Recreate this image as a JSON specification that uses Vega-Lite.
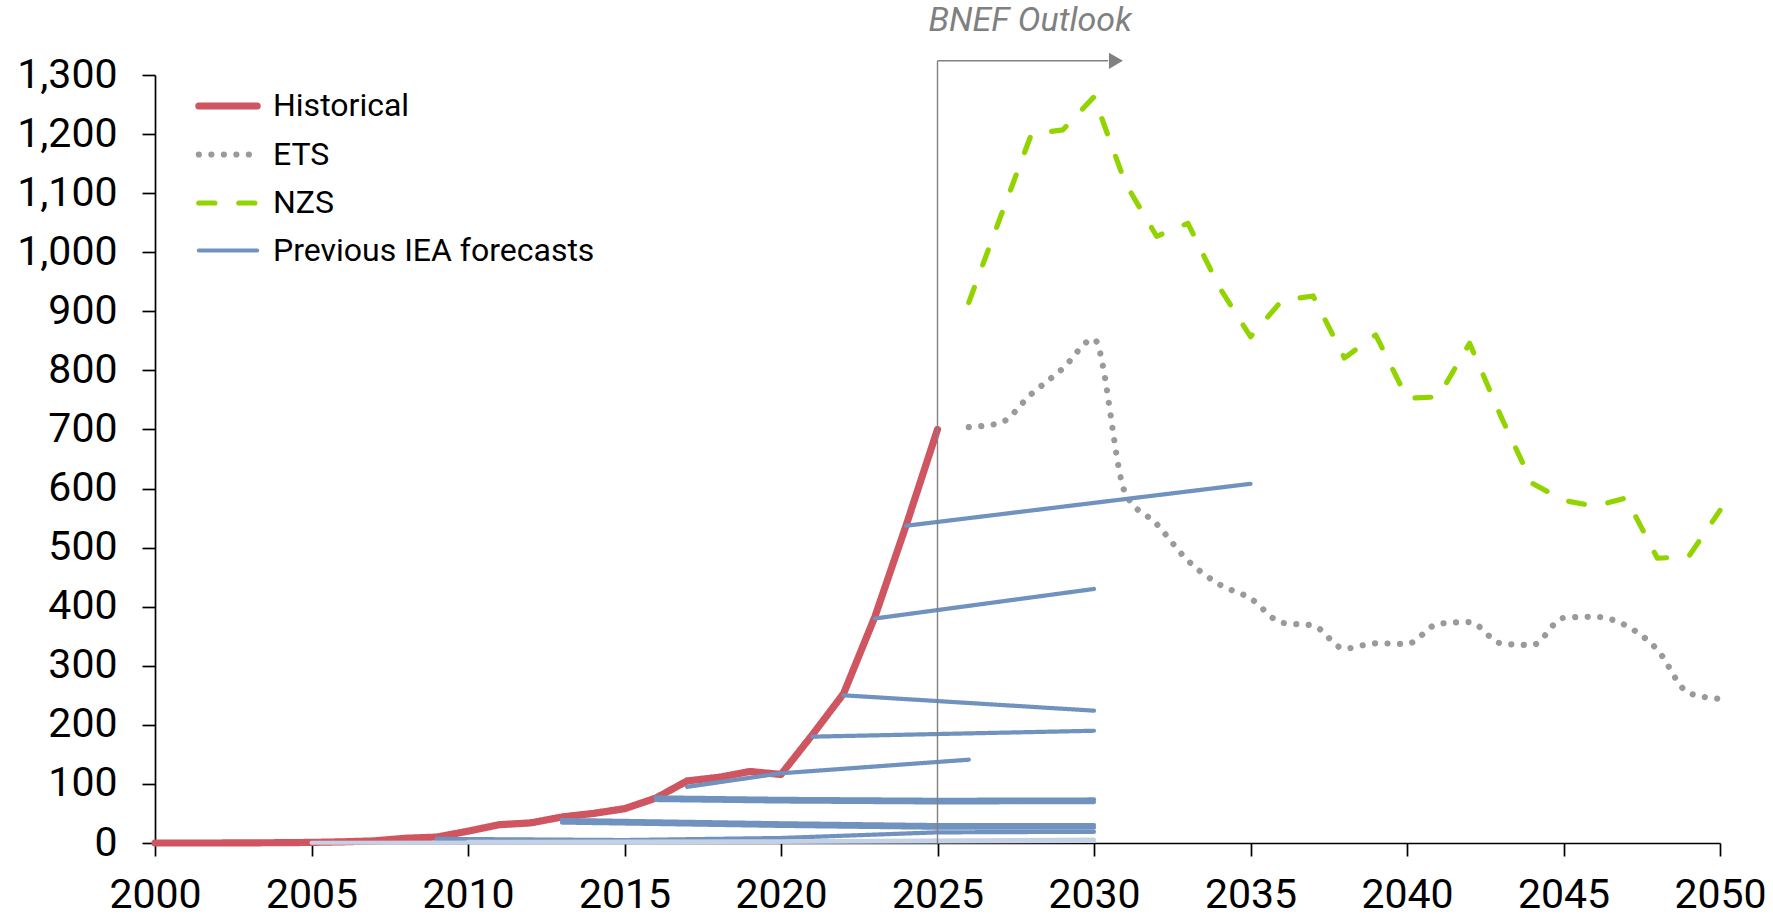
{
  "$schema": "https://vega.github.io/schema/vega-lite/v6.json",
  "width": 1565,
  "height": 768,
  "autosize": {"type": "none"},
  "padding": {"left": 155, "top": 75, "right": 53, "bottom": 75},
  "background": "#ffffff",
  "config": {
    "view": {"stroke": null},
    "font": "Roboto",
    "axis": {
      "grid": false,
      "domainColor": "#000000",
      "domainWidth": 1.7,
      "tickColor": "#000000",
      "tickWidth": 1.7,
      "tickSize": 13,
      "labelFont": "Roboto",
      "labelFontSize": 41,
      "labelColor": "#000000",
      "labelOverlap": false,
      "labelFlush": false
    },
    "legend": {
      "orient": "none",
      "legendX": 40,
      "legendY": -2,
      "padding": 0,
      "labelFont": "Roboto",
      "labelFontSize": 32,
      "labelColor": "#000000",
      "symbolType": "stroke",
      "symbolSize": 3400,
      "rowPadding": -11.5,
      "labelOffset": 12,
      "labelLimit": 600
    }
  },
  "datasets": {
    "main": [
      {"series": "Historical", "run": "H", "year": 2000, "value": 0},
      {"series": "Historical", "run": "H", "year": 2001, "value": 0},
      {"series": "Historical", "run": "H", "year": 2002, "value": 0},
      {"series": "Historical", "run": "H", "year": 2003, "value": 0.3},
      {"series": "Historical", "run": "H", "year": 2004, "value": 0.5},
      {"series": "Historical", "run": "H", "year": 2005, "value": 1},
      {"series": "Historical", "run": "H", "year": 2006, "value": 2},
      {"series": "Historical", "run": "H", "year": 2007, "value": 3.5},
      {"series": "Historical", "run": "H", "year": 2008, "value": 8},
      {"series": "Historical", "run": "H", "year": 2009, "value": 10},
      {"series": "Historical", "run": "H", "year": 2010, "value": 20},
      {"series": "Historical", "run": "H", "year": 2011, "value": 31},
      {"series": "Historical", "run": "H", "year": 2012, "value": 34},
      {"series": "Historical", "run": "H", "year": 2013, "value": 44},
      {"series": "Historical", "run": "H", "year": 2014, "value": 50},
      {"series": "Historical", "run": "H", "year": 2015, "value": 58},
      {"series": "Historical", "run": "H", "year": 2016, "value": 76},
      {"series": "Historical", "run": "H", "year": 2017, "value": 105},
      {"series": "Historical", "run": "H", "year": 2018, "value": 111},
      {"series": "Historical", "run": "H", "year": 2019, "value": 121},
      {"series": "Historical", "run": "H", "year": 2020, "value": 116},
      {"series": "Historical", "run": "H", "year": 2021, "value": 183},
      {"series": "Historical", "run": "H", "year": 2022, "value": 253},
      {"series": "Historical", "run": "H", "year": 2023, "value": 383},
      {"series": "Historical", "run": "H", "year": 2024, "value": 538},
      {"series": "Historical", "run": "H", "year": 2025, "value": 700},

      {"series": "ETS", "run": "E", "year": 2026, "value": 704},
      {"series": "ETS", "run": "E", "year": 2027, "value": 711},
      {"series": "ETS", "run": "E", "year": 2028, "value": 760},
      {"series": "ETS", "run": "E", "year": 2029, "value": 803},
      {"series": "ETS", "run": "E", "year": 2030, "value": 853},
      {"series": "ETS", "run": "E", "year": 2031, "value": 592},
      {"series": "ETS", "run": "E", "year": 2032, "value": 540},
      {"series": "ETS", "run": "E", "year": 2033, "value": 478},
      {"series": "ETS", "run": "E", "year": 2034, "value": 438},
      {"series": "ETS", "run": "E", "year": 2035, "value": 414},
      {"series": "ETS", "run": "E", "year": 2036, "value": 373},
      {"series": "ETS", "run": "E", "year": 2037, "value": 368},
      {"series": "ETS", "run": "E", "year": 2038, "value": 329},
      {"series": "ETS", "run": "E", "year": 2039, "value": 338},
      {"series": "ETS", "run": "E", "year": 2040, "value": 337},
      {"series": "ETS", "run": "E", "year": 2041, "value": 371},
      {"series": "ETS", "run": "E", "year": 2042, "value": 374},
      {"series": "ETS", "run": "E", "year": 2043, "value": 338},
      {"series": "ETS", "run": "E", "year": 2044, "value": 335},
      {"series": "ETS", "run": "E", "year": 2045, "value": 381},
      {"series": "ETS", "run": "E", "year": 2046, "value": 383},
      {"series": "ETS", "run": "E", "year": 2047, "value": 368},
      {"series": "ETS", "run": "E", "year": 2048, "value": 327},
      {"series": "ETS", "run": "E", "year": 2049, "value": 254},
      {"series": "ETS", "run": "E", "year": 2050, "value": 244},

      {"series": "NZS", "run": "N", "year": 2026, "value": 915},
      {"series": "NZS", "run": "N", "year": 2027, "value": 1058},
      {"series": "NZS", "run": "N", "year": 2028, "value": 1200},
      {"series": "NZS", "run": "N", "year": 2029, "value": 1207},
      {"series": "NZS", "run": "N", "year": 2030, "value": 1263},
      {"series": "NZS", "run": "N", "year": 2031, "value": 1117},
      {"series": "NZS", "run": "N", "year": 2032, "value": 1027},
      {"series": "NZS", "run": "N", "year": 2033, "value": 1049},
      {"series": "NZS", "run": "N", "year": 2034, "value": 941},
      {"series": "NZS", "run": "N", "year": 2035, "value": 857},
      {"series": "NZS", "run": "N", "year": 2036, "value": 918},
      {"series": "NZS", "run": "N", "year": 2037, "value": 926},
      {"series": "NZS", "run": "N", "year": 2038, "value": 821},
      {"series": "NZS", "run": "N", "year": 2039, "value": 860},
      {"series": "NZS", "run": "N", "year": 2040, "value": 753},
      {"series": "NZS", "run": "N", "year": 2041, "value": 755},
      {"series": "NZS", "run": "N", "year": 2042, "value": 846},
      {"series": "NZS", "run": "N", "year": 2043, "value": 722},
      {"series": "NZS", "run": "N", "year": 2044, "value": 609},
      {"series": "NZS", "run": "N", "year": 2045, "value": 580},
      {"series": "NZS", "run": "N", "year": 2046, "value": 570},
      {"series": "NZS", "run": "N", "year": 2047, "value": 584},
      {"series": "NZS", "run": "N", "year": 2048, "value": 482},
      {"series": "NZS", "run": "N", "year": 2049, "value": 485},
      {"series": "NZS", "run": "N", "year": 2050, "value": 563},

      {"series": "Previous IEA forecasts", "run": "F2024", "year": 2024, "value": 537},
      {"series": "Previous IEA forecasts", "run": "F2024", "year": 2035, "value": 608},
      {"series": "Previous IEA forecasts", "run": "F2023", "year": 2023, "value": 380},
      {"series": "Previous IEA forecasts", "run": "F2023", "year": 2030, "value": 430},
      {"series": "Previous IEA forecasts", "run": "F2022", "year": 2022, "value": 250},
      {"series": "Previous IEA forecasts", "run": "F2022", "year": 2030, "value": 224},
      {"series": "Previous IEA forecasts", "run": "F2021", "year": 2021, "value": 180},
      {"series": "Previous IEA forecasts", "run": "F2021", "year": 2030, "value": 190},
      {"series": "Previous IEA forecasts", "run": "F2017", "year": 2017, "value": 95},
      {"series": "Previous IEA forecasts", "run": "F2017", "year": 2020, "value": 118},
      {"series": "Previous IEA forecasts", "run": "F2017", "year": 2026, "value": 141},
      {"series": "Previous IEA forecasts", "run": "F2016a", "year": 2016, "value": 77.2},
      {"series": "Previous IEA forecasts", "run": "F2016a", "year": 2020, "value": 74.7},
      {"series": "Previous IEA forecasts", "run": "F2016a", "year": 2025, "value": 73.1},
      {"series": "Previous IEA forecasts", "run": "F2016a", "year": 2030, "value": 73.7},
      {"series": "Previous IEA forecasts", "run": "F2016b", "year": 2016, "value": 72.8},
      {"series": "Previous IEA forecasts", "run": "F2016b", "year": 2020, "value": 70.3},
      {"series": "Previous IEA forecasts", "run": "F2016b", "year": 2025, "value": 68.7},
      {"series": "Previous IEA forecasts", "run": "F2016b", "year": 2030, "value": 69.3},
      {"series": "Previous IEA forecasts", "run": "F2013a", "year": 2013, "value": 39},
      {"series": "Previous IEA forecasts", "run": "F2013a", "year": 2020, "value": 33.4},
      {"series": "Previous IEA forecasts", "run": "F2013a", "year": 2025, "value": 30.3},
      {"series": "Previous IEA forecasts", "run": "F2013a", "year": 2030, "value": 30.3},
      {"series": "Previous IEA forecasts", "run": "F2013b", "year": 2013, "value": 34.6},
      {"series": "Previous IEA forecasts", "run": "F2013b", "year": 2020, "value": 29},
      {"series": "Previous IEA forecasts", "run": "F2013b", "year": 2025, "value": 25.9},
      {"series": "Previous IEA forecasts", "run": "F2013b", "year": 2030, "value": 25.9},
      {"series": "Previous IEA forecasts", "run": "F2009", "year": 2009, "value": 7},
      {"series": "Previous IEA forecasts", "run": "F2009", "year": 2015, "value": 5},
      {"series": "Previous IEA forecasts", "run": "F2009", "year": 2020, "value": 8.5},
      {"series": "Previous IEA forecasts", "run": "F2009", "year": 2025, "value": 18},
      {"series": "Previous IEA forecasts", "run": "F2009", "year": 2030, "value": 19},

      {"series": "Older forecasts", "run": "F2005", "year": 2005, "value": 0.3},
      {"series": "Older forecasts", "run": "F2005", "year": 2015, "value": 1},
      {"series": "Older forecasts", "run": "F2005", "year": 2030, "value": 3.5},
      {"series": "Older forecasts", "run": "F2010", "year": 2010, "value": 2},
      {"series": "Older forecasts", "run": "F2010", "year": 2020, "value": 3},
      {"series": "Older forecasts", "run": "F2010", "year": 2030, "value": 6}
    ],
    "annot": [
      {"part": "rule", "year": 2025, "year2": 2025, "value": 0, "value2": 1324},
      {"part": "rule", "year": 2025, "year2": 2030.45, "value": 1324, "value2": 1324},
      {"part": "arrow", "year": 2030.7, "value": 1324},
      {"part": "label", "year": 2027.96, "value": 1391, "label": "BNEF Outlook"}
    ]
  },
  "encoding": {
    "x": {
      "field": "year",
      "type": "quantitative",
      "scale": {"domain": [2000, 2050], "nice": false, "zero": false},
      "axis": {
        "title": null,
        "values": [2000, 2005, 2010, 2015, 2020, 2025, 2030, 2035, 2040, 2045, 2050],
        "format": "d",
        "labelPadding": 19
      }
    },
    "y": {
      "field": "value",
      "type": "quantitative",
      "scale": {"domain": [0, 1300], "nice": false},
      "axis": {
        "title": null,
        "values": [0, 100, 200, 300, 400, 500, 600, 700, 800, 900, 1000, 1100, 1200, 1300],
        "format": ",d",
        "labelPadding": 25
      }
    }
  },
  "layer": [
    {
      "data": {"name": "main"},
      "transform": [{"filter": "datum.series === 'Historical' || datum.series === 'NZS'"}],
      "mark": {"type": "line", "strokeCap": "round", "strokeJoin": "round"},
      "encoding": {
        "detail": {"field": "run"},
        "color": {
          "field": "series",
          "type": "nominal",
          "scale": {
            "domain": ["Historical", "ETS", "NZS", "Previous IEA forecasts"],
            "range": ["#CF5560", "#9A9A9A", "#92D400", "#7092BE"]
          },
          "legend": {"title": null, "encode": {"symbols": {"update": {"strokeCap": {"value": "round"}}}}}
        },
        "strokeDash": {
          "field": "series",
          "type": "nominal",
          "scale": {
            "domain": ["Historical", "ETS", "NZS", "Previous IEA forecasts"],
            "range": [[1, 0], [0.01, 12.5], [16, 24], [1, 0]]
          },
          "legend": {"title": null, "encode": {"symbols": {"update": {"strokeCap": {"value": "round"}}}}}
        },
        "strokeWidth": {
          "field": "series",
          "type": "ordinal",
          "scale": {
            "domain": ["Historical", "ETS", "NZS", "Previous IEA forecasts"],
            "range": [7.2, 4.2, 6, 4]
          },
          "legend": {"title": null, "encode": {"symbols": {"update": {"strokeCap": {"value": "round"}}}}}
        }
      }
    },
    {
      "data": {"name": "main"},
      "transform": [{"filter": "datum.series === 'ETS'"}],
      "mark": {"type": "line", "strokeCap": "round", "strokeJoin": "round", "interpolate": "monotone"},
      "encoding": {
        "detail": {"field": "run"},
        "color": {"field": "series", "type": "nominal", "legend": {"title": null}},
        "strokeDash": {"field": "series", "type": "nominal", "legend": {"title": null}},
        "strokeWidth": {"field": "series", "type": "ordinal", "legend": {"title": null}}
      }
    },
    {
      "data": {"name": "main"},
      "transform": [{"filter": "datum.series === 'Previous IEA forecasts'"}],
      "mark": {"type": "line", "strokeCap": "round", "strokeJoin": "round"},
      "encoding": {
        "detail": {"field": "run"},
        "color": {"field": "series", "type": "nominal", "legend": {"title": null}},
        "strokeDash": {"field": "series", "type": "nominal", "legend": {"title": null}},
        "strokeWidth": {"field": "series", "type": "ordinal", "legend": {"title": null}}
      }
    },
    {
      "data": {"name": "main"},
      "transform": [{"filter": "datum.series === 'Older forecasts'"}],
      "mark": {"type": "line", "strokeCap": "round", "color": "#C5D2E6", "strokeWidth": 4},
      "encoding": {"detail": {"field": "run"}}
    },
    {
      "data": {"name": "annot"},
      "transform": [{"filter": "datum.part === 'rule'"}],
      "mark": {"type": "rule", "color": "#808080", "strokeWidth": 1.4},
      "encoding": {
        "x2": {"field": "year2"},
        "y2": {"field": "value2"}
      }
    },
    {
      "data": {"name": "annot"},
      "transform": [{"filter": "datum.part === 'arrow'"}],
      "mark": {"type": "point", "shape": "triangle-right", "filled": true, "color": "#808080", "size": 260, "opacity": 1},
      "encoding": {}
    },
    {
      "data": {"name": "annot"},
      "transform": [{"filter": "datum.part === 'label'"}],
      "mark": {"type": "text", "font": "Roboto", "fontSize": 34, "fontStyle": "italic", "color": "#808080", "align": "center", "baseline": "middle"},
      "encoding": {"text": {"field": "label"}}
    }
  ]
}
